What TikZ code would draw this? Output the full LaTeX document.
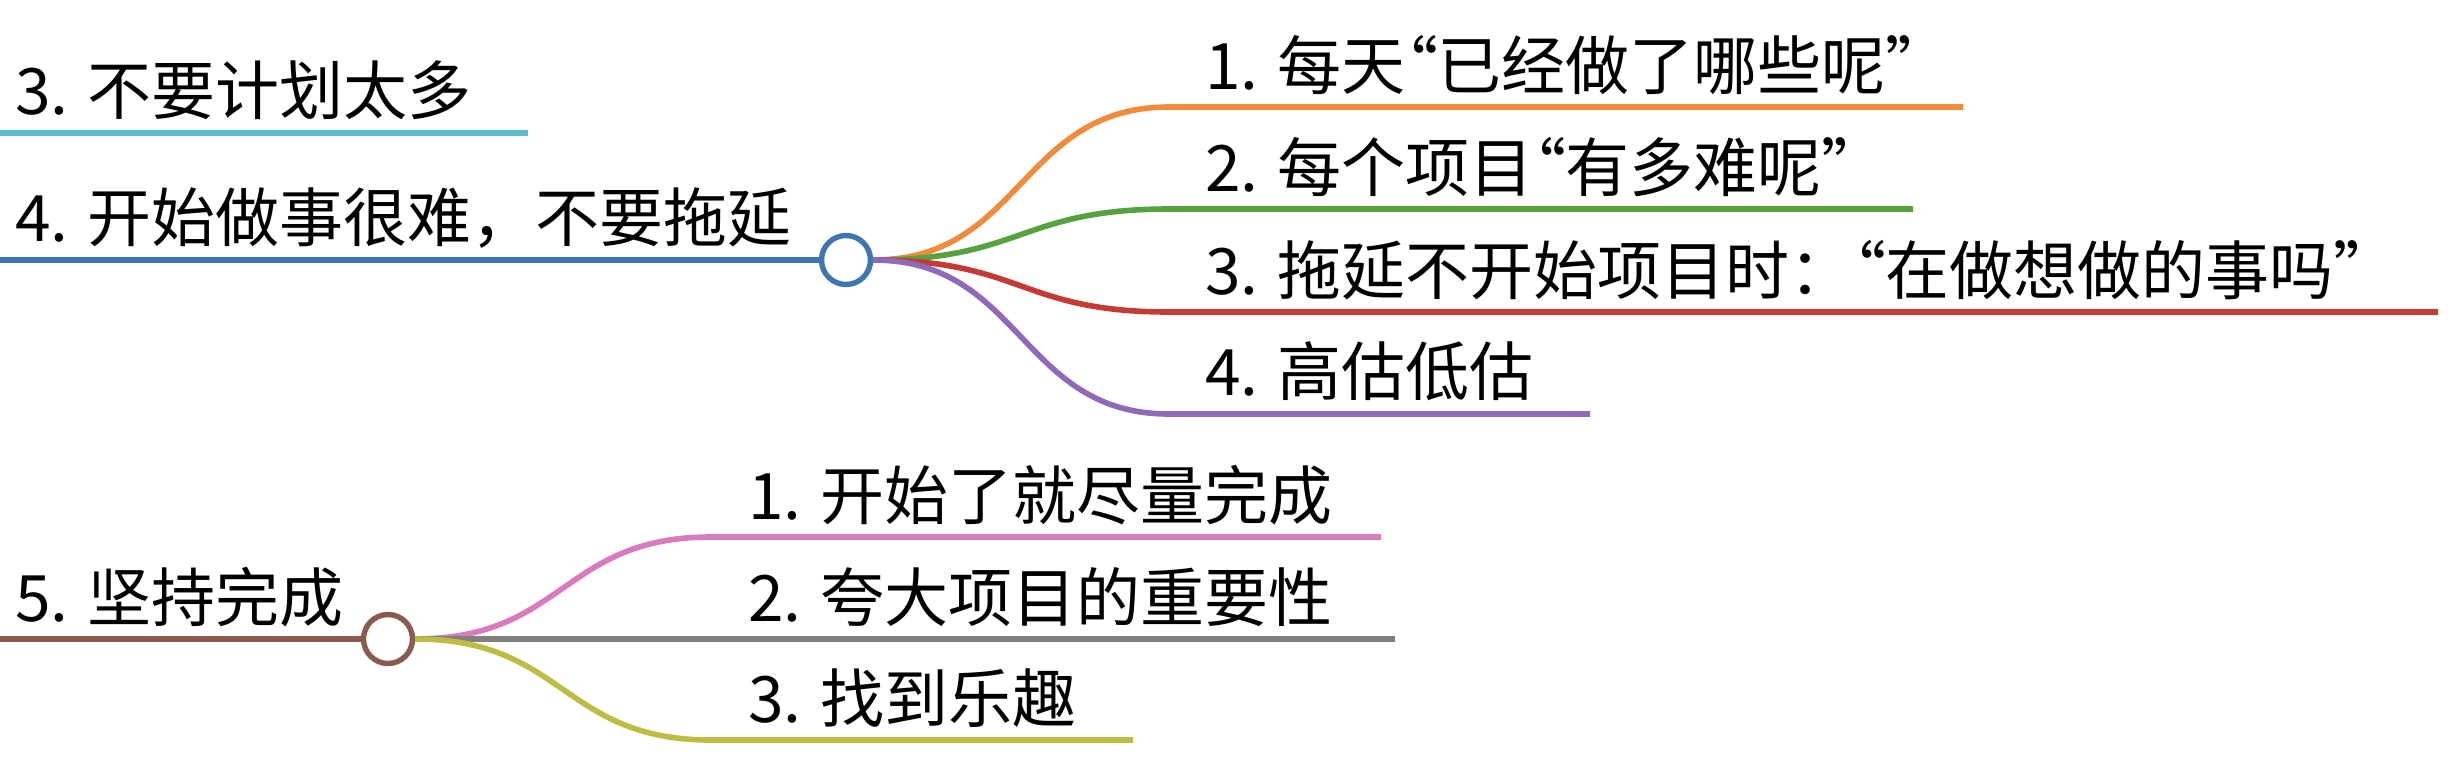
\documentclass[tikz,border=0pt]{standalone}
\usepackage{fontspec}
\newfontfamily\cjk{Noto Sans CJK SC}
\newcommand\qmark[1]{{\addfontfeature{RawFeature=+palt}#1}}
\usetikzlibrary{positioning}

\definecolor{mmcyan}{HTML}{5ABBC9}
\definecolor{mmblue}{HTML}{3D76B0}
\definecolor{mmbrown}{HTML}{8B5A4F}
\definecolor{mmorange}{HTML}{F08B3B}
\definecolor{mmgreen}{HTML}{55A23F}
\definecolor{mmred}{HTML}{C53B34}
\definecolor{mmpurple}{HTML}{8E6AB8}
\definecolor{mmpink}{HTML}{D77BBE}
\definecolor{mmgray}{HTML}{808080}
\definecolor{mmolive}{HTML}{BDBD44}

\begin{document}
\begin{tikzpicture}[x=0.5pt, y=-0.5pt]
		\tikzstyle{Label}	= [anchor=base west, inner sep=0pt, font=\cjk\fontsize{32}{38}\selectfont]
		\tikzstyle{Hub}		= [circle, draw, solid, fill=white, minimum size=24.5pt, inner sep=0pt, line width=2.7pt]
		\tikzstyle{Edge}	= [line width=2.8pt]
		\useasboundingbox (0,0) rectangle (2460,766);

		\node (l3) at (15,114) [Label] {3. 不要计划太多};
		\node (l4) at (15,241) [Label] {4. 开始做事很难，不要拖延};
		\node (l5) at (15,621) [Label] {5. 坚持完成};
		\node (a1) at (1205,89) [Label] {1. 每天\qmark{“}已经做了哪些呢\qmark{”}};
		\node (a2) at (1205,191) [Label] {2. 每个项目\qmark{“}有多难呢\qmark{”}};
		\node (a3) at (1205,294) [Label] {3. 拖延不开始项目时：\qmark{“}在做想做的事吗\qmark{”}};
		\node (a4) at (1205,395) [Label] {4. 高估低估};
		\node (b1) at (748,519) [Label] {1. 开始了就尽量完成};
		\node (b2) at (748,621) [Label] {2. 夸大项目的重要性};
		\node (b3) at (748,722) [Label] {3. 找到乐趣};

		\node (c1) at (846,260) [Hub][draw=mmblue] {};
		\node (c2) at (388,639) [Hub][draw=mmbrown] {};

		\coordinate (cy0) at (0,133);
		\coordinate (cy1) at (528,133);
		\coordinate (bl0) at (0,260);
		\coordinate (br0) at (0,639);
		\coordinate (o0) at (1169,107);
		\coordinate (o1) at (1963,107);
		\coordinate (g0) at (1169,209);
		\coordinate (g1) at (1913,209);
		\coordinate (r0) at (1169,312);
		\coordinate (r1) at (2438,312);
		\coordinate (p0) at (1169,414);
		\coordinate (p1) at (1590,414);
		\coordinate (k0) at (711,537);
		\coordinate (k1) at (1381,537);
		\coordinate (gy1) at (1395,639);
		\coordinate (v0) at (711,740);
		\coordinate (v1) at (1133,740);

		\draw [-] (cy0) -- (cy1) [Edge, mmcyan];
		\draw [-] (bl0) -- (c1) [Edge, mmblue];
		\draw [-] (br0) -- (c2) [Edge, mmbrown];

		\draw [-] (c1.east) .. controls +(149,0) and +(-149,0) .. (o0) -- (o1) [Edge, mmorange];
		\draw [-] (c1.east) .. controls +(149,0) and +(-149,0) .. (g0) -- (g1) [Edge, mmgreen];
		\draw [-] (c1.east) .. controls +(149,0) and +(-149,0) .. (r0) -- (r1) [Edge, mmred];
		\draw [-] (c1.east) .. controls +(149,0) and +(-149,0) .. (p0) -- (p1) [Edge, mmpurple];

		\draw [-] (c2.east) .. controls +(149,0) and +(-149,0) .. (k0) -- (k1) [Edge, mmpink];
		\draw [-] (c2.east) -- (gy1) [Edge, mmgray];
		\draw [-] (c2.east) .. controls +(149,0) and +(-149,0) .. (v0) -- (v1) [Edge, mmolive];
	\end{tikzpicture}
\end{document}
